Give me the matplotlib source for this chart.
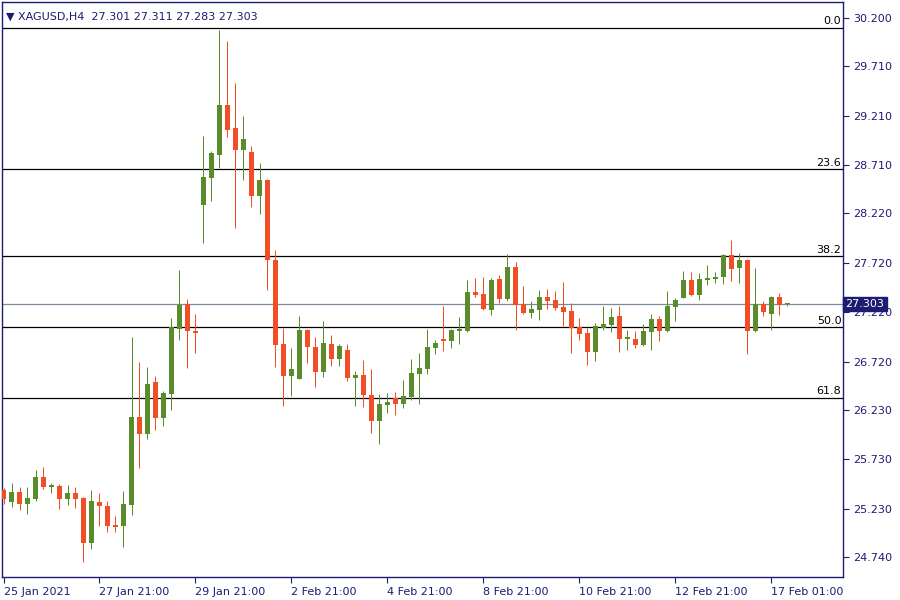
import numpy as np
import matplotlib.pyplot as plt
from matplotlib.transforms import blended_transform_factory

# H4 candles, XAGUSD, 25 Jan 21:00 .. 17 Feb 2021
opens = [25.419, 25.300, 25.399, 25.280, 25.331, 25.551, 25.452, 25.459, 25.331, 25.388,
         25.338, 24.885, 25.297, 25.257, 25.064, 25.054, 25.267, 26.158, 25.986, 26.513,
         26.148, 26.391, 27.050, 27.303, 27.029, 28.306, 28.579, 28.812, 29.319, 29.086,
         28.863, 28.843, 28.397, 28.559, 27.749, 26.898, 26.577, 26.546, 27.040, 26.867,
         26.617, 26.898, 26.749, 26.837, 26.556, 26.584, 26.381, 26.121, 26.283, 26.351,
         26.290, 26.361, 26.594, 26.645, 26.857, 26.948, 26.928, 27.029, 27.029, 27.425,
         27.404, 27.245, 27.556, 27.357, 27.678, 27.303, 27.215, 27.245, 27.374, 27.344,
         27.273, 27.232, 27.067, 27.009, 26.820, 27.060, 27.090, 27.181, 26.948, 26.948,
         26.888, 27.022, 27.151, 27.033, 27.276, 27.367, 27.546, 27.397, 27.549, 27.559,
         27.580, 27.799, 27.671, 27.749, 27.033, 27.303, 27.205, 27.374, 27.301]
highs = [25.439, 25.493, 25.449, 25.449, 25.621, 25.652, 25.493, 25.483, 25.469, 25.449,
         25.345, 25.419, 25.388, 25.307, 25.155, 25.409, 26.969, 26.715, 26.665, 26.574,
         26.422, 27.161, 27.647, 27.354, 27.202, 29.005, 28.853, 30.079, 29.967, 29.542,
         29.207, 28.904, 28.731, 28.565, 27.850, 27.065, 26.857, 27.181, 27.045, 26.969,
         27.131, 26.989, 26.898, 26.898, 26.624, 26.736, 26.645, 26.391, 26.401, 26.412,
         26.533, 26.746, 26.807, 27.050, 26.938, 27.283, 27.045, 27.171, 27.546, 27.566,
         27.577, 27.566, 27.597, 27.810, 27.728, 27.485, 27.333, 27.445, 27.455, 27.435,
         27.526, 27.313, 27.161, 27.060, 27.111, 27.283, 27.262, 27.283, 27.040, 27.029,
         27.100, 27.202, 27.181, 27.435, 27.364, 27.637, 27.627, 27.617, 27.698, 27.627,
         27.810, 27.951, 27.820, 27.755, 27.668, 27.333, 27.384, 27.414, 27.311]
lows = [25.274, 25.250, 25.219, 25.179, 25.310, 25.432, 25.391, 25.229, 25.270, 25.240,
        24.692, 24.824, 25.057, 24.993, 24.993, 24.844, 25.166, 25.642, 25.935, 26.027,
        26.067, 26.229, 26.938, 26.655, 26.807, 27.924, 28.346, 28.684, 28.995, 28.073,
        28.559, 28.286, 28.215, 27.445, 26.668, 26.273, 26.374, 26.540, 26.708, 26.465,
        26.567, 26.678, 26.678, 26.526, 26.273, 26.263, 25.999, 25.888, 26.202, 26.182,
        26.253, 26.334, 26.293, 26.597, 26.800, 26.830, 26.860, 26.901, 27.024, 27.374,
        27.242, 27.195, 27.316, 27.336, 27.043, 27.205, 27.164, 27.144, 27.255, 27.242,
        27.083, 26.810, 26.941, 26.688, 26.729, 27.040, 27.019, 26.817, 26.840, 26.857,
        26.878, 26.840, 26.931, 27.022, 27.134, 27.360, 27.387, 27.347, 27.499, 27.519,
        27.509, 27.539, 27.519, 26.800, 27.022, 27.184, 27.043, 27.195, 27.283]
closes = [25.331, 25.399, 25.280, 25.338, 25.551, 25.452, 25.473, 25.331, 25.388, 25.331,
          24.885, 25.307, 25.260, 25.054, 25.044, 25.277, 26.158, 25.986, 26.493, 26.148,
          26.401, 27.070, 27.293, 27.029, 27.012, 28.590, 28.833, 29.319, 29.066, 28.863,
          28.974, 28.397, 28.559, 27.752, 26.888, 26.577, 26.645, 27.040, 26.870, 26.617,
          26.908, 26.749, 26.878, 26.556, 26.584, 26.384, 26.121, 26.290, 26.310, 26.290,
          26.371, 26.604, 26.655, 26.867, 26.908, 26.928, 27.040, 27.050, 27.425, 27.394,
          27.252, 27.546, 27.357, 27.678, 27.296, 27.215, 27.252, 27.374, 27.336, 27.266,
          27.225, 27.063, 27.002, 26.820, 27.080, 27.100, 27.171, 26.948, 26.969, 26.888,
          27.029, 27.151, 27.033, 27.283, 27.344, 27.546, 27.397, 27.556, 27.566, 27.577,
          27.799, 27.661, 27.749, 27.033, 27.303, 27.225, 27.374, 27.296, 27.303]

tick_pos = [0, 12, 24, 36, 48, 60, 72, 84, 96]
tick_labels = ['25 Jan 2021', '27 Jan 21:00', '29 Jan 21:00', '2 Feb 21:00', '4 Feb 21:00',
               '8 Feb 21:00', '10 Feb 21:00', '12 Feb 21:00', '17 Feb 01:00']
price_ticks = [30.200, 29.710, 29.210, 28.710, 28.220, 27.720,
               27.220, 26.720, 26.230, 25.730, 25.230, 24.740]

fib_levels = [0.0, 23.6, 38.2, 50.0, 61.8]
fib_high = 30.10
fib_low = 24.04
last_price = 27.303
header = '\u25bc XAGUSD,H4  27.301 27.311 27.283 27.303'

navy = '#1c1c72'
up = '#5b8c2c'
down = '#f24e26'

fig = plt.figure(figsize=(9, 6), dpi=100, facecolor='white')
ax = fig.add_axes([2/900, 23/600, 841/900, 575/600])

o = np.array(opens)
h = np.array(highs)
l = np.array(lows)
c = np.array(closes)
x = np.arange(len(o))
col = np.where(c >= o, up, down)

# wicks and bodies (1 px wicks, centred on pixel columns)
ax.vlines(x, l, h, colors=col, linewidth=0.72, snap=True, zorder=4)
body = np.maximum(np.abs(c - o), 0.012)
ax.bar(x, body, bottom=np.minimum(o, c), width=0.625, color=col, linewidth=0,
       snap=True, zorder=5)

# fibonacci levels
blend = blended_transform_factory(ax.transAxes, ax.transData)
for lvl in fib_levels:
    p = fib_high - lvl / 100 * (fib_high - fib_low)
    ax.axhline(p, color='black', linewidth=0.9, zorder=2)
    ax.text(0.998, p + 0.015, f'{lvl:.1f}', transform=blend, ha='right', va='bottom',
            fontsize=8, color='black', zorder=6)

# current price line and label
ax.axhline(last_price, color='#7a8a9a', linewidth=0.9, zorder=2)
ax.text(1.003, last_price, f'{last_price:.3f}', transform=blend, ha='left', va='center',
        fontsize=8, color='white', clip_on=False, zorder=10,
        bbox=dict(boxstyle='square,pad=0.2', fc=navy, ec=navy))

ax.set_xlim(-0.1875, 104.9375)
ax.set_ylim(24.538, 30.362)

ax.yaxis.tick_right()
ax.set_yticks(price_ticks)
ax.set_yticklabels([f'{p:.3f}' for p in price_ticks])
ax.set_xticks(tick_pos)
ax.set_xticklabels(tick_labels)
for lab in ax.get_xticklabels():
    lab.set_horizontalalignment('left')
ax.tick_params(axis='y', direction='out', length=4, width=0.8, colors=navy,
               labelsize=8, pad=3)
ax.tick_params(axis='x', direction='out', length=4, width=0.8, colors=navy,
               labelsize=8, pad=3)
for s in ax.spines.values():
    s.set_color(navy)
    s.set_linewidth(1)

fig.text(6/900, 1 - 17/600, header, color=navy, fontsize=8, va='center')

fig.savefig('out.png', dpi=100, facecolor='white')
